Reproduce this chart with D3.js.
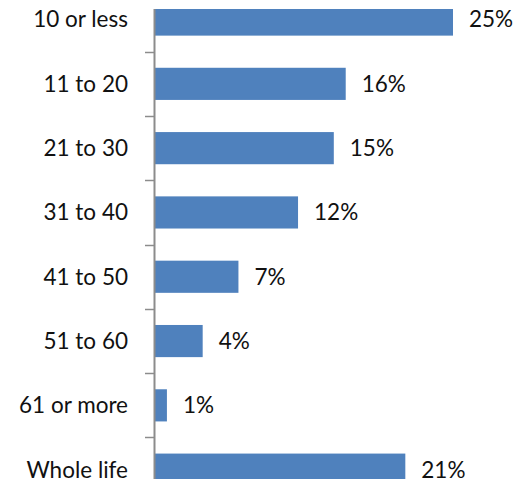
<!DOCTYPE html>
<html>
<head>
<meta charset="utf-8">
<script src="https://cdn.jsdelivr.net/npm/d3@7"></script>
<style>
  html, body { margin: 0; padding: 0; background: #fff; }
  svg { display: block; }
  text { font-family: Lato, "Open Sans", sans-serif; fill: #111; }
</style>
</head>
<body>
<div id="chart"></div>
<script>
// Share of respondents by number of years
const categories = ["10 or less", "11 to 20", "21 to 30", "31 to 40", "41 to 50", "51 to 60", "61 or more", "Whole life"];
const values = [25, 16, 15, 12, 7, 4, 1, 21];
const valueLabels = ["25%", "16%", "15%", "12%", "7%", "4%", "1%", "21%"];

const width = 520, height = 485;
const plotTop = 9, plotBottom = 479;

const svg = d3.select("#chart").append("svg")
  .attr("width", width)
  .attr("height", height);

const x = d3.scaleLinear().domain([0, 25]).range([155, 453]);

const y = d3.scaleBand()
  .domain(categories)
  .range([-12.6, 501.8])
  .paddingInner(0.5)
  .paddingOuter(0.25);

svg.append("defs").append("clipPath").attr("id", "plot-clip")
  .append("rect")
  .attr("x", 0).attr("y", plotTop)
  .attr("width", width).attr("height", plotBottom - plotTop);

const plot = svg.append("g").attr("clip-path", "url(#plot-clip)");

plot.selectAll("rect.bar")
  .data(categories)
  .join("rect")
  .attr("class", "bar")
  .attr("x", x(0))
  .attr("y", d => y(d))
  .attr("width", (d, i) => x(values[i]) - x(0))
  .attr("height", y.bandwidth())
  .attr("fill", "#4F81BD");

// category axis: line plus ticks on band boundaries
const axisG = svg.append("g");
axisG.append("line")
  .attr("x1", 154.5).attr("x2", 154.5)
  .attr("y1", plotTop).attr("y2", plotBottom)
  .attr("stroke", "#8c8c8c")
  .attr("stroke-width", 2);

const boundaries = categories.slice(1).map(d => y(d) - y.step() * y.paddingInner() / 2);
axisG.selectAll("line.tick")
  .data(boundaries)
  .join("line")
  .attr("class", "tick")
  .attr("x1", 145).attr("x2", 154)
  .attr("y1", d => Math.round(d) + 0.5).attr("y2", d => Math.round(d) + 0.5)
  .attr("stroke", "#8c8c8c")
  .attr("stroke-width", 1.5);

svg.selectAll("text.cat")
  .data(categories)
  .join("text")
  .attr("class", "cat")
  .attr("x", 128)
  .attr("y", d => y(d) + y.bandwidth() / 2)
  .attr("dy", "0.35em")
  .attr("text-anchor", "end")
  .attr("font-size", 22.5)
  .text(d => d);

svg.selectAll("text.val")
  .data(categories)
  .join("text")
  .attr("class", "val")
  .attr("x", (d, i) => x(values[i]) + 16)
  .attr("y", d => y(d) + y.bandwidth() / 2)
  .attr("dy", "0.35em")
  .attr("text-anchor", "start")
  .attr("font-size", 22.5)
  .text((d, i) => valueLabels[i]);
</script>
</body>
</html>
